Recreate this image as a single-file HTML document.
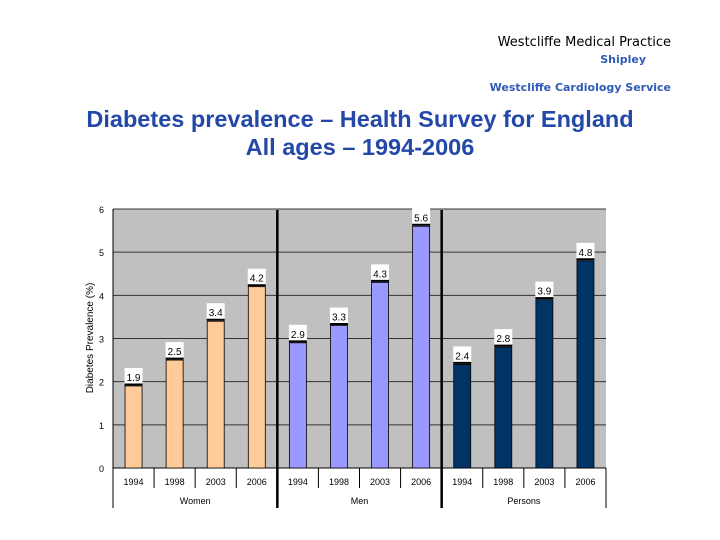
<!DOCTYPE html>
<html><head><meta charset="utf-8"><style>
body{margin:0;background:#fff;width:720px;height:540px;overflow:hidden;position:relative;font-family:"Liberation Sans",sans-serif}
.h{position:absolute;font-family:"DejaVu Sans",sans-serif;white-space:nowrap}
</style></head><body>
<div class="h" style="right:49px;top:35px;font-size:13px;color:#000">Westcliffe Medical Practice</div>
<div class="h" style="right:74px;top:53px;font-size:11px;color:#2f5bb7;font-weight:bold">Shipley</div>
<div class="h" style="right:49px;top:81px;font-size:11px;color:#2f5bb7;font-weight:bold">Westcliffe Cardiology Service</div>
<div style="position:absolute;left:0;width:720px;top:105px;text-align:center;font-size:23.5px;font-weight:bold;color:#2448a8;line-height:28px">Diabetes prevalence – Health Survey for England<br>All ages – 1994-2006</div>
<svg id="c" width="720" height="540" style="position:absolute;left:0;top:0"></svg>
<script>
const years=["1994","1998","2003","2006","1994","1998","2003","2006","1994","1998","2003","2006"];
const groups=["Women","Men","Persons"];
const values=[1.9,2.5,3.4,4.2,2.9,3.3,4.3,5.6,2.4,2.8,3.9,4.8];
const yTicks=[0,1,2,3,4,5,6];
const colors=["#ffcc99","#9999ff","#003366"];
const NS="http://www.w3.org/2000/svg";
const svg=document.getElementById('c');
const X0=113,X1=606,Y0=468,Y1=209;
const cw=(X1-X0)/values.length;
const y=v=>Y0-(v/6)*(Y0-Y1);
const xc=i=>X0+cw*(i+0.5);
function el(t,a,p){const e=document.createElementNS(NS,t);for(const k in a)e.setAttribute(k,a[k]);(p||svg).appendChild(e);return e;}
const bg=el('rect',{x:X0,y:Y1,width:X1-X0,height:Y0-Y1,fill:'#c0c0c0'});


yTicks.forEach(t=>{
  if(t>0){const g=el('line',{x1:X0,x2:X1,y1:y(t),y2:y(t),stroke:'#333','stroke-width':1});
  
  }
  const l=el('text',{x:104,y:y(t)+4,'font-size':9,'text-anchor':'end',fill:'#000'});l.textContent=t;
  
  
});
el('line',{x1:X0,x2:X0,y1:Y1,y2:508,stroke:'#000'});
el('line',{x1:X0,x2:X1,y1:Y0,y2:Y0,stroke:'#000'});
el('line',{x1:X1,x2:X1,y1:Y0,y2:508,stroke:'#000'});
const yt=el('text',{transform:'translate(93,338) rotate(-90)','font-size':10,'text-anchor':'middle'});yt.textContent='Diabetes Prevalence (%)';


values.forEach((v,i)=>{
  const b=el('rect',{x:xc(i)-8.5,y:y(v),width:17,height:Y0-y(v),fill:colors[Math.floor(i/4)],stroke:'#000','stroke-width':0.8});
  
  
  el('rect',{x:xc(i)-9,y:y(v)-18,width:18,height:17,fill:'#fff'});
  el('line',{x1:xc(i)-9,x2:xc(i)+9,y1:y(v)-1.5,y2:y(v)-1.5,stroke:'#000','stroke-width':2});
  const t=el('text',{x:xc(i),y:y(v)-5,'font-size':10,'text-anchor':'middle'});t.textContent=v.toFixed(1);
  
  
  const yl=el('text',{x:xc(i),y:485,'font-size':9,'text-anchor':'middle'});yl.textContent=years[i];
  
  
  if(i%4!==0) el('line',{x1:X0+cw*i,x2:X0+cw*i,y1:Y0,y2:488,stroke:'#000'});
});
groups.forEach((g,k)=>{
  const t=el('text',{x:X0+cw*(4*k+2),y:504,'font-size':9,'text-anchor':'middle'});t.textContent=g;
  
  
  if(k>0){const s=el('line',{x1:X0+cw*4*k,x2:X0+cw*4*k,y1:210,y2:508,stroke:'#000','stroke-width':2.5});
  
  }
});
</script>
</body></html>
